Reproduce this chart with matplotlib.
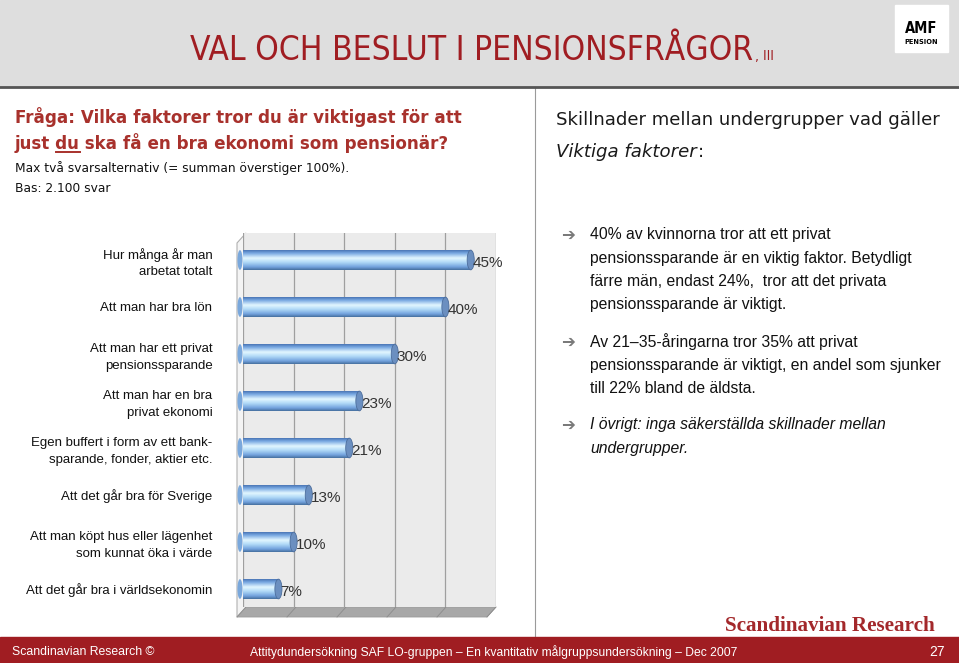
import numpy as np
import matplotlib
matplotlib.use("Agg")
import matplotlib.pyplot as plt
from matplotlib.colors import LinearSegmentedColormap
from matplotlib.patches import Rectangle, Polygon, Ellipse

# --- data -------------------------------------------------------------
categories = [
    "Hur många år man\narbetat totalt",
    "Att man har bra lön",
    "Att man har ett privat\npensionssparande",
    "Att man har en bra\nprivat ekonomi",
    "Egen buffert i form av ett bank-\nsparande, fonder, aktier etc.",
    "Att det går bra för Sverige",
    "Att man köpt hus eller lägenhet\nsom kunnat öka i värde",
    "Att det går bra i världsekonomin",
]
values = [45, 40, 30, 23, 21, 13, 10, 7]

title = "VAL OCH BESLUT I PENSIONSFRÅGOR"
question = ["Fråga: Vilka faktorer tror du är viktigast för att",
            "just du ska få en bra ekonomi som pensionär?"]
notes = ["Max två svarsalternativ (= summan överstiger 100%).",
         "Bas: 2.100 svar"]
bullets = [
    ["40% av kvinnorna tror att ett privat",
     "pensionssparande är en viktig faktor. Betydligt",
     "färre män, endast 24%,  tror att det privata",
     "pensionssparande är viktigt."],
    ["Av 21–35-åringarna tror 35% att privat",
     "pensionssparande är viktigt, en andel som sjunker",
     "till 22% bland de äldsta."],
    ["I övrigt: inga säkerställda skillnader mellan",
     "undergrupper."],
]
footer_mid = "Attitydundersökning SAF LO-gruppen – En kvantitativ målgruppsundersökning – Dec 2007"

W, H = 959, 663
RED = "#a01d22"
TXT_RED = "#a8312c"

fig = plt.figure(figsize=(W / 100, H / 100), dpi=100)
fig.patch.set_facecolor("white")

# background axes in pixel coordinates
bg = fig.add_axes([0, 0, 1, 1])
bg.set_xlim(0, W)
bg.set_ylim(H, 0)
bg.axis("off")

# header band
bg.add_patch(Rectangle((0, 0), W, 86, color="#dedede", zorder=0))
bg.plot([0, W], [87, 87], color="#555555", lw=2, zorder=1)
bg.plot([535, 535], [88, 636], color="#9a9a9a", lw=0.8, zorder=0)

renderer = fig.canvas.get_renderer()

t = bg.text(190, 60, title, color=RED, fontsize=24, family="DejaVu Sans",
            stretch="condensed", va="baseline", ha="left")
bb = t.get_window_extent(renderer)
bg.text(bb.x1 + 2, 60, ", III", color=RED, fontsize=10, family="DejaVu Sans",
        stretch="condensed", va="baseline", ha="left")

# AMF logo box
bg.add_patch(Rectangle((895, 5), 53, 47, color="white", zorder=2))
bg.text(921.5, 33, "AMF", fontsize=10.5, weight="bold", ha="center", va="baseline",
        family="DejaVu Sans", stretch="condensed", zorder=3)
bg.text(921.5, 44, "PENSION", fontsize=4.8, weight="bold", ha="center", va="baseline",
        family="DejaVu Sans", zorder=3)

# question text
QFS = 12.1
for i, line in enumerate(question):
    bg.text(15, 117 + 26 * i, line, color=TXT_RED, fontsize=QFS, weight="bold",
            family="DejaVu Sans", va="center", ha="left")
# underline "du"
tmp = bg.text(15, 143, "just ", fontsize=QFS, weight="bold", family="DejaVu Sans")
w_just = tmp.get_window_extent(renderer).width
tmp.set_text("du")
w_du = tmp.get_window_extent(renderer).width
tmp.remove()
bg.plot([15 + w_just, 15 + w_just + w_du], [152, 152], color=TXT_RED, lw=1.4)

for i, line in enumerate(notes):
    bg.text(15, 168 + 20 * i, line, color="#111111", fontsize=8.8,
            family="DejaVu Sans", va="center", ha="left")

# right column heading
HFS = 13.1
bg.text(556, 120, "Skillnader mellan undergrupper vad gäller", color="#1a1a1a",
        fontsize=HFS, family="DejaVu Sans", va="center", ha="left")
bg.text(556, 152, "Viktiga faktorer", color="#1a1a1a", fontsize=HFS,
        family="DejaVu Sans", style="italic", va="center", ha="left")
tmp = bg.text(556, 152, "Viktiga faktorer", fontsize=HFS, family="DejaVu Sans",
              style="italic")
w_vf = tmp.get_window_extent(renderer).width
tmp.remove()
bg.text(556 + w_vf + 1, 152, ":", color="#1a1a1a", fontsize=HFS,
        family="DejaVu Sans", va="center", ha="left")

# bullets
bullet_y = [235, 342, 425]
for k, (y0, lines) in enumerate(zip(bullet_y, bullets)):
    bg.text(561, y0, "➔", color="#7a7a7a", fontsize=12, family="DejaVu Sans",
            weight="bold", va="center", ha="left")
    for j, line in enumerate(lines):
        bg.text(590, y0 + 23.3 * j, line, color="#111111", fontsize=11.3,
                family="Liberation Sans", style="italic" if k == 2 else "normal",
                va="center", ha="left")

# footer
bg.add_patch(Rectangle((0, 637), W, 26, color=RED, zorder=1))
bg.text(12, 652, "Scandinavian Research ©", color="white", fontsize=8.8,
        family="Liberation Sans", va="center", ha="left", zorder=2)
bg.text(250, 652, footer_mid, color="white", fontsize=8.7,
        family="Liberation Sans", va="center", ha="left", zorder=2)
bg.text(945, 652, "27", color="white", fontsize=10, family="Liberation Sans",
        va="center", ha="right", zorder=2)
bg.text(830, 626, "Scandinavian Research", color="#a3282b", fontsize=15.2,
        weight="bold", family="Liberation Serif", va="center", ha="center")

# 3D-ish chart frame (left wall + floor)
bg.add_patch(Polygon([(246, 607), (496, 607), (487, 617), (237, 617)],
                     closed=True, facecolor="#a8a8a8", edgecolor="#9a9a9a",
                     lw=0.6, zorder=1))
bg.add_patch(Polygon([(237, 243), (246, 233), (246, 607), (237, 617)],
                     closed=True, facecolor="#f4f4f4", edgecolor="#b0b0b0",
                     lw=0.8, zorder=1))
for gx in range(246, 497, 50):
    bg.plot([gx - 9, gx], [617, 607], color="#8c8c8c", lw=0.6, zorder=1)

# --- chart axes -------------------------------------------------------
ax = fig.add_axes([243 / W, (H - 607) / H, (496 - 243) / W, (607 - 233) / H])
ax.set_facecolor("#ebebeb")
n = len(values)
ypos = np.arange(n)
ax.set_xticks(np.arange(0, 51, 10))
ax.xaxis.grid(True, color="#9f9f9f", lw=0.9)
ax.set_axisbelow(True)
ax.tick_params(axis="x", length=0, labelbottom=False)
ax.set_yticks(ypos)
ax.set_yticklabels(categories, fontsize=9.5, family="Liberation Sans",
                   color="#111111", linespacing=1.45)
ax.tick_params(axis="y", length=0, pad=22)
for s in ax.spines.values():
    s.set_visible(False)

bar_cmap = LinearSegmentedColormap.from_list(
    "cyl", [(0.0, "#4a76b6"), (0.15, "#78a8e2"), (0.4, "#e2f6ff"),
            (0.6, "#b4dcf8"), (0.85, "#73a3de"), (1.0, "#46709f")])
grad = np.linspace(0, 1, 64).reshape(-1, 1)
h = 0.42
for y, v in zip(ypos, values):
    ax.imshow(grad, cmap=bar_cmap, aspect="auto", interpolation="bilinear",
              extent=[-0.6, v, y + h / 2, y - h / 2], zorder=3)
    ax.add_patch(Ellipse((v, y), 1.4, h, facecolor="#6b8fc0",
                         edgecolor="#4c6d9c", lw=0.6, zorder=4))
    ax.add_patch(Ellipse((-0.6, y), 1.0, h, facecolor="#7aa8dc",
                         edgecolor="none", lw=0, zorder=2, clip_on=False))
    ax.text(v + 0.4, y + 0.06, f"{v}%", fontsize=11, family="Liberation Sans",
            color="#333333", va="center", ha="left", zorder=5, clip_on=False)
ax.set_xlim(0, 50)
ax.set_ylim(7.383, -0.574)

fig.savefig("out.png", dpi=100)
